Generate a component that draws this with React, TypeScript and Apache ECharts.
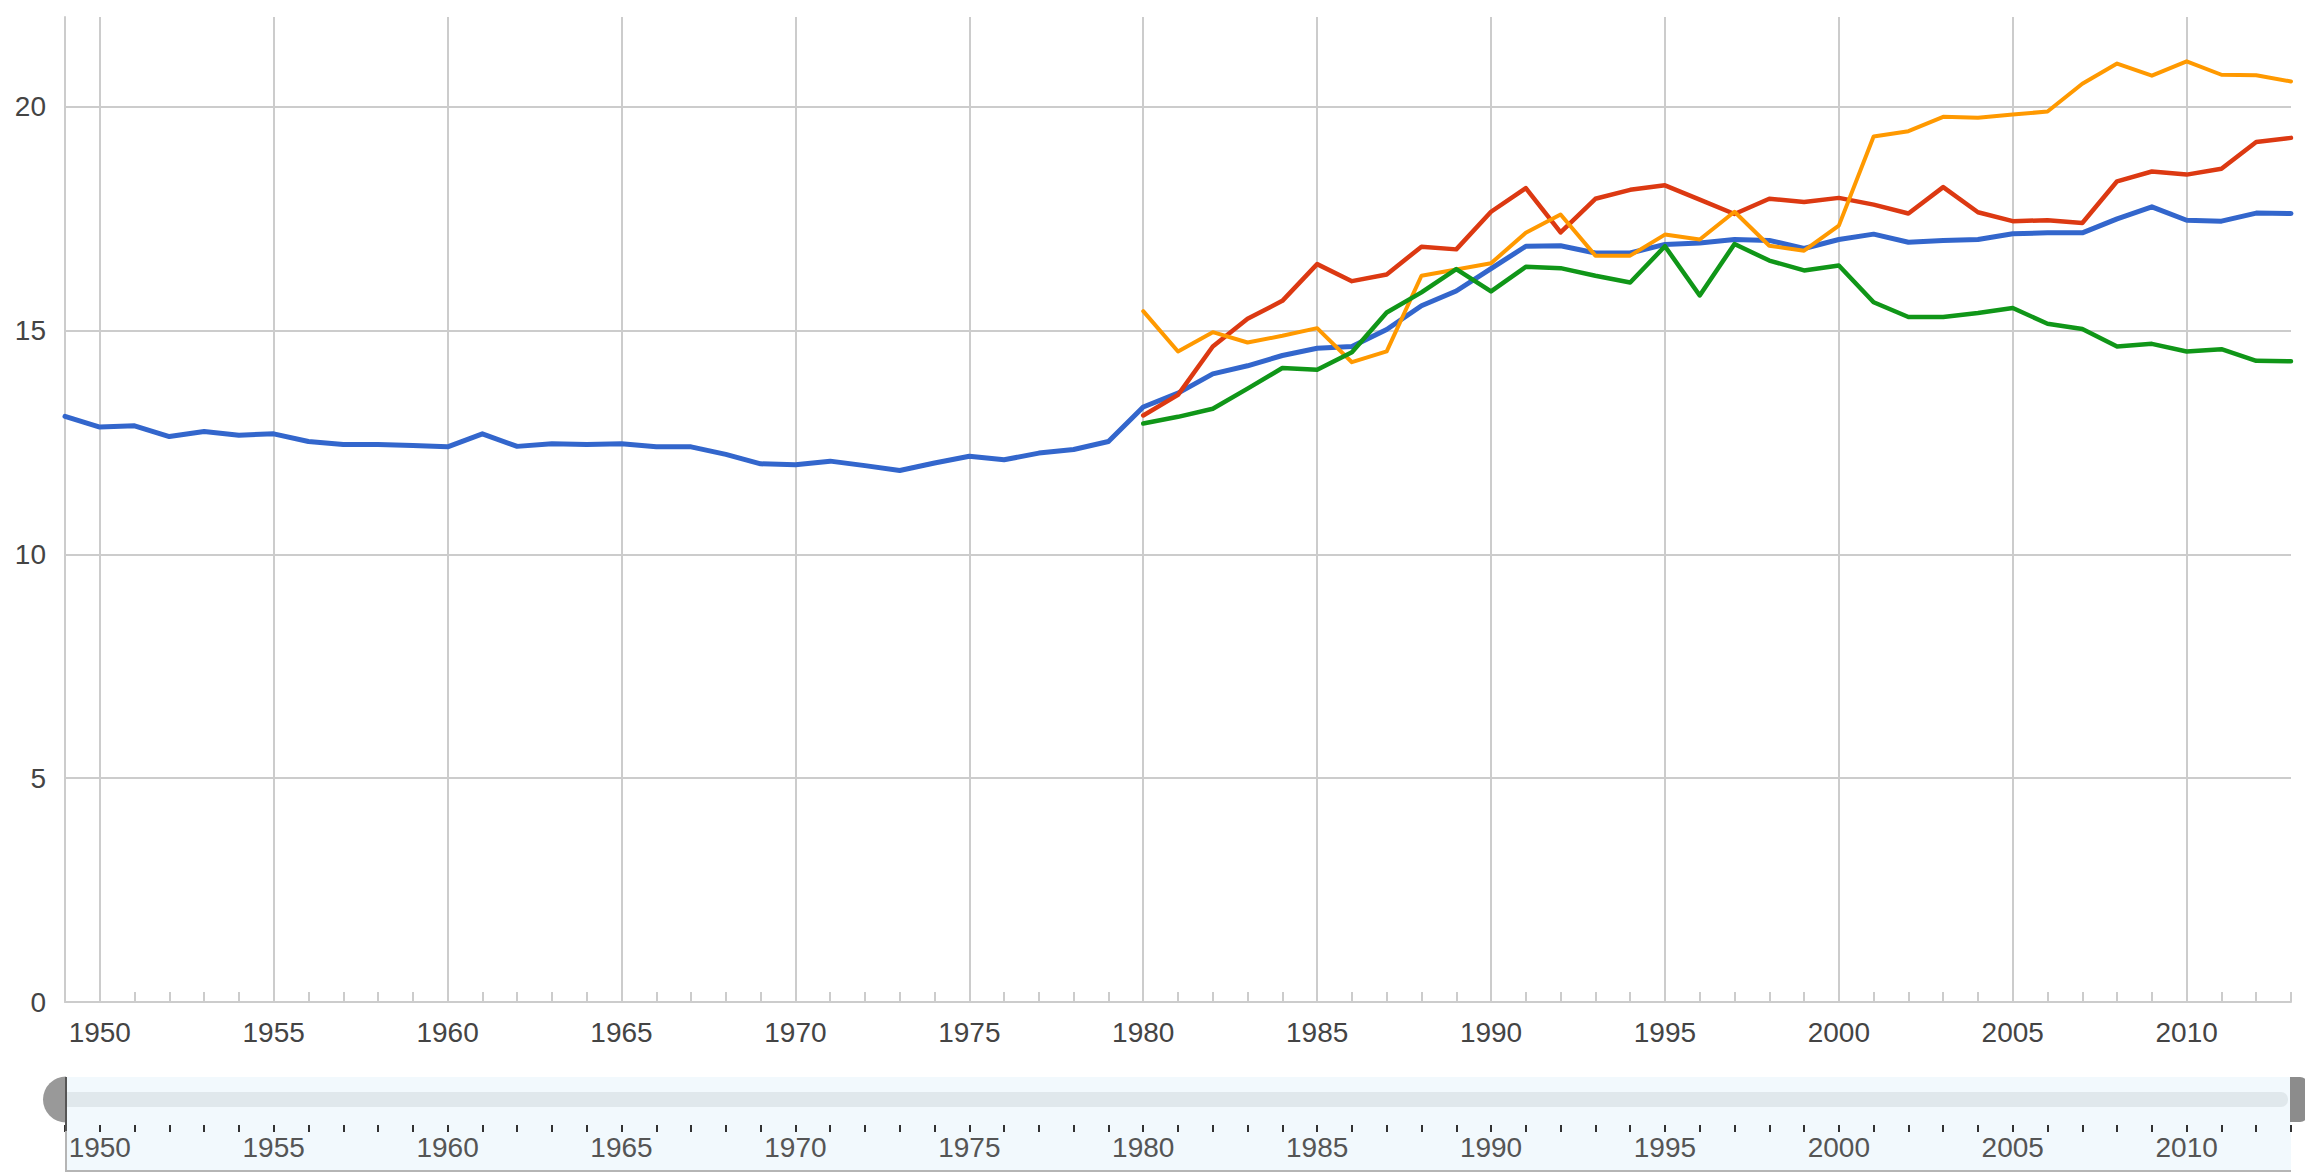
import React, { useEffect, useRef } from "react";
import * as echarts from "echarts";

// Categories (years 1949..2013)
const firstYear = 1949;
const lastYear = 2013;
const years: string[] = [];
for (let y = firstYear; y <= lastYear; y++) years.push(String(y));

// Series values
const blueStart = 1949;
const blue = [
  13.08, 12.84, 12.87, 12.63, 12.74, 12.66, 12.69, 12.52, 12.45, 12.45,
  12.43, 12.4, 12.69, 12.41, 12.47, 12.45, 12.47, 12.4, 12.4, 12.23,
  12.02, 12.0, 12.08, 11.98, 11.87, 12.04, 12.19, 12.11, 12.26, 12.34,
  12.52, 13.29, 13.6, 14.03, 14.21, 14.44, 14.6, 14.64, 15.02, 15.55,
  15.88, 16.38, 16.88, 16.89, 16.73, 16.73, 16.92, 16.95, 17.03, 17.01,
  16.83, 17.03, 17.15, 16.97, 17.01, 17.03, 17.16, 17.18, 17.18, 17.49,
  17.76, 17.46, 17.44, 17.62, 17.61,
];

const otherStart = 1980;
const red = [
  13.1, 13.56, 14.64, 15.26, 15.66, 16.48, 16.1, 16.25, 16.87, 16.81,
  17.65, 18.18, 17.19, 17.94, 18.14, 18.24, 17.92, 17.6, 17.94, 17.87,
  17.96, 17.81, 17.61, 18.2, 17.64, 17.44, 17.46, 17.4, 18.33, 18.55,
  18.48, 18.61, 19.21, 19.3,
];
const orange = [
  15.43, 14.53, 14.96, 14.73, 14.88, 15.05, 14.29, 14.53, 16.22, 16.36,
  16.5, 17.18, 17.59, 16.67, 16.67, 17.14, 17.03, 17.65, 16.89, 16.78,
  17.34, 19.33, 19.45, 19.77, 19.75, 19.82, 19.89, 20.51, 20.96, 20.69,
  21.01, 20.71, 20.7, 20.56,
];
const green = [
  12.92, 13.07, 13.25, 13.7, 14.16, 14.12, 14.51, 15.4, 15.85, 16.37,
  15.87, 16.42, 16.39, 16.22, 16.07, 16.88, 15.78, 16.93, 16.56, 16.34,
  16.45, 15.63, 15.3, 15.3, 15.39, 15.5, 15.15, 15.03, 14.64, 14.7,
  14.53, 14.58, 14.32, 14.31,
];

const yMin = 0;
const yMax = 22;
const yStep = 5;
const labelStep = 5;

const FONT = "'Liberation Sans', Arial, sans-serif";

function pairs(start: number, values: number[]) {
  return values.map((v, i) => [String(start + i), v]);
}

export default function App() {
  const ref = useRef<HTMLDivElement>(null);

  useEffect(() => {
    if (!ref.current) return;
    const chart = echarts.init(ref.current, undefined, { renderer: "svg" });
    const isMajor = (_i: number, v: string) => Number(v) % labelStep === 0;

    const lineSeries = (name: string, color: string, width: number, data: any[]) => ({
      name,
      type: "line",
      xAxisIndex: 0,
      yAxisIndex: 0,
      data,
      showSymbol: false,
      symbol: "none",
      connectNulls: false,
      lineStyle: { color, width, join: "round", cap: "round" },
      itemStyle: { color },
      emphasis: { disabled: true },
    });

    chart.setOption({
      animation: false,
      backgroundColor: "#ffffff",
      textStyle: { fontFamily: FONT },
      grid: [
        { left: 65, top: 17, width: 2226, height: 985 },
        { left: 65, top: 1077, width: 2226, height: 48 },
      ],
      xAxis: [
        {
          type: "category",
          gridIndex: 0,
          data: years,
          boundaryGap: false,
          axisLine: { show: true, lineStyle: { color: "#cccccc", width: 2 } },
          axisTick: {
            show: true,
            inside: true,
            length: 10,
            interval: 0,
            lineStyle: { color: "#cccccc", width: 2 },
          },
          axisLabel: {
            interval: isMajor,
            fontSize: 28,
            color: "#444444",
            margin: 16,
            fontFamily: FONT,
          },
          splitLine: {
            show: true,
            interval: isMajor,
            lineStyle: { color: "#cccccc", width: 2 },
          },
        },
        {
          type: "category",
          gridIndex: 1,
          data: years,
          boundaryGap: false,
          position: "bottom",
          axisLine: { show: false },
          axisTick: {
            show: true,
            interval: 0,
            length: 7,
            lineStyle: { color: "#333333", width: 2 },
          },
          axisLabel: {
            interval: isMajor,
            fontSize: 28,
            color: "#555555",
            margin: 8,
            fontFamily: FONT,
          },
          splitLine: { show: false },
        },
      ],
      yAxis: [
        {
          type: "value",
          gridIndex: 0,
          min: yMin,
          max: yMax,
          interval: yStep,
          axisLine: { show: true, lineStyle: { color: "#cccccc", width: 2 } },
          axisTick: { show: false },
          axisLabel: {
            fontSize: 28,
            color: "#444444",
            margin: 19,
            fontFamily: FONT,
            formatter: (v: number) => (v % yStep === 0 ? String(v) : ""),
          },
          splitLine: {
            show: true,
            lineStyle: {
              color: ["#cccccc", "#cccccc", "#cccccc", "#cccccc", "#cccccc", "rgba(0,0,0,0)"],
              width: 2,
            },
          },
        },
        { type: "value", gridIndex: 1, show: false, min: 0, max: 1 },
      ],
      series: [
        lineSeries("Series 1", "#3366cc", 5, pairs(blueStart, blue)),
        lineSeries("Series 2", "#dc3912", 4.5, pairs(otherStart, red)),
        lineSeries("Series 3", "#ff9900", 4, pairs(otherStart, orange)),
        lineSeries("Series 4", "#109618", 4.5, pairs(otherStart, green)),
      ],
      graphic: [
        {
          type: "rect",
          z: -1,
          shape: { x: 65, y: 1077, width: 2226, height: 95 },
          style: { fill: "#f2f9fd" },
        },
        {
          type: "rect",
          z: -1,
          shape: { x: 66, y: 1092, width: 2222, height: 15, r: [0, 7, 7, 0] },
          style: { fill: "#e0e8ec" },
        },
        {
          type: "line",
          z: 5,
          shape: { x1: 66, y1: 1077, x2: 66, y2: 1172 },
          style: { stroke: "#b5b5b5", lineWidth: 2 },
        },
        {
          type: "line",
          z: 5,
          shape: { x1: 65, y1: 1171, x2: 2291, y2: 1171 },
          style: { stroke: "#b5b5b5", lineWidth: 2 },
        },
        {
          type: "sector",
          z: 10,
          shape: {
            cx: 66,
            cy: 1099.5,
            r0: 0,
            r: 23,
            startAngle: Math.PI / 2,
            endAngle: (Math.PI * 3) / 2,
            clockwise: true,
          },
          style: { fill: "#999999" },
        },
        {
          type: "line",
          z: 11,
          shape: { x1: 66, y1: 1077, x2: 66, y2: 1131 },
          style: { stroke: "#555555", lineWidth: 2 },
        },
        {
          type: "rect",
          z: 10,
          shape: { x: 2290, y: 1077, width: 18, height: 45, r: [0, 8, 8, 0] },
          style: { fill: "#8c8c8c" },
        },
      ],
    });

    return () => chart.dispose();
  }, []);

  return (
    <div
      ref={ref}
      style={{ position: "fixed", left: 0, top: 0, width: "2305px", height: "1174px" }}
    />
  );
}
